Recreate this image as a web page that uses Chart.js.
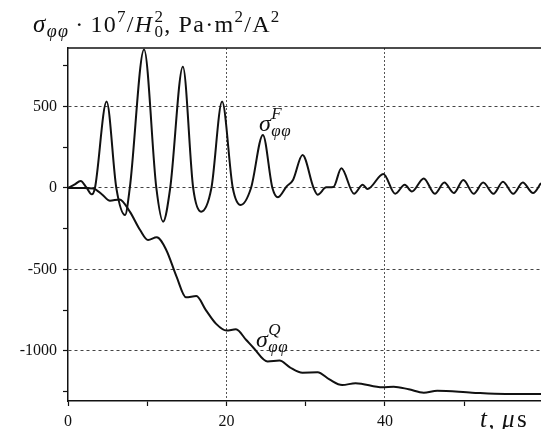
<!DOCTYPE html>
<html>
<head>
<meta charset="utf-8">
<script src="https://cdn.jsdelivr.net/npm/chart.js"></script>
<style>
  html, body { margin:0; padding:0; background:#fff; }
  #c { display:block; }
</style>
</head>
<body>
<canvas id="c" width="541" height="429"></canvas>
<script>
// --- data ---
const fTime = [0, 0.8, 1.6, 2.3, 3.0, 3.4, 4.87, 6.1, 7.2, 7.8, 9.6, 11.15, 12.0, 12.9, 14.5, 15.8, 16.8, 18.1, 19.45,
  20.8, 21.8, 23.1, 24.6, 25.8, 26.5, 27.6, 28.4, 29.6, 31.0, 31.5, 32.6, 33.5, 34.5, 36.1, 37.2, 37.8, 39.8,
  41.3, 42.5, 43.4, 44.9, 46.3, 47.5, 48.7, 49.9, 51.2, 52.4, 53.7, 54.9, 56.2, 57.4, 58.7, 59.7];
const fVal = [0, 20, 43, 5, -39, 0, 530, 0, -166, 0, 850, 0, -207, 0, 744, 0, -145, 0, 530,
  0, -104, 0, 325, 0, -57, 10, 49, 202, 0, -41, 4, 6, 121, -35, 20, -6, 86,
  -35, 20, -21, 59, -35, 33, -31, 49, -35, 33, -35, 39, -35, 33, -31, 30];

const qTime = [0, 2.0, 3.2, 4.3, 5.3, 6.5, 7.8, 9.1, 10.1, 11.2, 12.4, 13.7, 14.9, 16.2, 17.4, 18.7, 20.0, 21.2,
  22.5, 23.4, 25.2, 26.7, 28.0, 29.6, 31.5, 33.0, 34.6, 36.3, 39.7, 41.1, 43.0, 44.9, 46.6, 51.0, 55.2, 59.7];
const qVal = [0, 0, -3, -40, -78, -70, -145, -258, -319, -303, -380, -544, -671, -663, -749, -834, -875, -867,
  -933, -980, -1065, -1059, -1100, -1133, -1131, -1175, -1209, -1198, -1223, -1219, -1235, -1256, -1244, -1256, -1264, -1264];

const xTicks = [0, 10, 20, 30, 40, 50];
const xLabels = {0:'0', 20:'20', 40:'40'};
const yTicks = [-1250, -1000, -750, -500, -250, 0, 250, 500, 750];
const yLabels = {'-1000':'-1000', '-500':'-500', '0':'0', '500':'500'};

const FAM = "'Liberation Serif', serif";

function pts(ts, vs){ return ts.map((t,i)=>({x:t, y:vs[i]})); }

// lay text pieces out left to right; a piece with "stack" puts a superscript over a subscript
function rich(ctx, x, y, parts, spacing){
  ctx.letterSpacing = (spacing||0) + 'px';
  parts.forEach(p=>{
    const items = p.stack || [p];
    let w = 0;
    items.forEach(s=>{
      ctx.font = (s.it?'italic ':'') + s.size + 'px ' + FAM;
      ctx.fillText(s.t, x, y + (s.dy||0));
      w = Math.max(w, ctx.measureText(s.t).width);
    });
    x += w + (p.gap||0);
  });
  ctx.letterSpacing = '0px';
}

const textPlugin = {
  id:'texts',
  afterDraw(chart){
    const ctx = chart.ctx, a = chart.chartArea;
    ctx.save();
    // top frame line
    ctx.strokeStyle = '#111'; ctx.lineWidth = 1.5;
    ctx.beginPath(); ctx.moveTo(a.left, a.top); ctx.lineTo(a.right, a.top); ctx.stroke();
    ctx.fillStyle = '#111';
    ctx.textBaseline = 'alphabetic';
    // title
    rich(ctx, 33, 32, [
      {t:'σ', it:true, size:25},
      {t:'φφ', it:true, size:18, dy:5, gap:6},
      {t:'·', size:24, gap:6},
      {t:'10', size:24},
      {t:'7', size:17, dy:-10},
      {t:'/', size:24},
      {t:'H', it:true, size:24, gap:1},
      {stack:[{t:'2', size:17, dy:-10}, {t:'0', size:17, dy:5}]},
      {t:',', size:24, gap:7},
      {t:'Pa', size:24},
      {t:'·', size:24},
      {t:'m', size:24},
      {t:'2', size:17, dy:-10},
      {t:'/', size:24},
      {t:'A', size:24},
      {t:'2', size:17, dy:-10}
    ], 1.3);
    // series labels
    rich(ctx, 259, 131, [
      {t:'σ', it:true, size:24},
      {stack:[{t:'F', it:true, size:17, dy:-12}, {t:'φφ', it:true, size:17, dy:5}]}
    ], 0.5);
    rich(ctx, 256, 347, [
      {t:'σ', it:true, size:24},
      {stack:[{t:'Q', it:true, size:17, dy:-12}, {t:'φφ', it:true, size:17, dy:5}]}
    ], 0.5);
    // axis name
    rich(ctx, 480, 427, [
      {t:'t', it:true, size:25},
      {t:',', size:24, gap:6},
      {t:'μ', it:true, size:25, gap:1},
      {t:'s', size:25}
    ], 1.5);
    ctx.restore();
  }
};

new Chart(document.getElementById('c').getContext('2d'), {
  type:'line',
  data:{
    datasets:[
      {label:'F', data:pts(fTime, fVal), borderColor:'#111', borderWidth:2, pointRadius:0, cubicInterpolationMode:'monotone'},
      {label:'Q', data:pts(qTime, qVal), borderColor:'#111', borderWidth:2, pointRadius:0, cubicInterpolationMode:'monotone'}
    ]
  },
  options:{
    responsive:false, animation:false, devicePixelRatio:1,
    layout:{padding:{top:48, left:0, right:0, bottom:0}},
    plugins:{legend:{display:false}, tooltip:{enabled:false}},
    scales:{
      x:{
        type:'linear', min:0, max:59.7,
        afterBuildTicks: s => { s.ticks = xTicks.map(v=>({value:v})); },
        afterFit: s => { s.height = 28; },
        ticks:{callback: v => xLabels[v] || '', color:'#111', font:{family:FAM, size:16}, padding:6, maxRotation:0, autoSkip:false},
        grid:{color: c => (c.tick && (c.tick.value===20 || c.tick.value===40)) ? '#555' : 'rgba(0,0,0,0)',
              lineWidth:1, drawTicks:true, tickLength:5, tickColor:'#111', tickWidth:1.2},
        border:{display:true, color:'#111', width:1.5, dash:[2,2]}
      },
      y:{
        type:'linear', min:-1307, max:859,
        afterBuildTicks: s => { s.ticks = yTicks.map(v=>({value:v})); },
        afterFit: s => { s.width = 68; },
        ticks:{callback: v => yLabels[String(v)] || '', color:'#111', font:{family:FAM, size:16}, padding:6, autoSkip:false},
        grid:{color: c => (c.tick && c.tick.value % 500 === 0) ? '#444' : 'rgba(0,0,0,0)',
              lineWidth:1, drawTicks:true, tickLength:5, tickColor:'#111', tickWidth:1.2},
        border:{display:true, color:'#111', width:1.5, dash:[3,3]}
      }
    }
  },
  plugins:[textPlugin]
});
</script>
</body>
</html>
